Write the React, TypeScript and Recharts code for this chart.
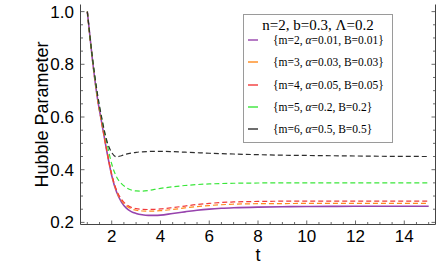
import { LineChart, Line, XAxis, YAxis, Legend } from "recharts";

// time grid shared by all curves
const tValues = [
  1, 1.2, 1.4, 1.6, 1.8, 2.0, 2.2, 2.4, 2.6, 2.8, 3.0, 3.25, 3.5, 3.75, 4, 4.5, 5, 5.5, 6, 6.5, 7, 8, 9, 10,
  11, 12, 13, 14, 15,
];

// Hubble parameter, one array per curve
const hubbleM2 = [
  1.0, 0.825, 0.68, 0.573, 0.47, 0.378, 0.315, 0.277, 0.254, 0.241, 0.234, 0.229, 0.2268, 0.2267, 0.2275,
  0.234, 0.24, 0.246, 0.2505, 0.2535, 0.2555, 0.258, 0.2595, 0.2603, 0.2607, 0.261, 0.261, 0.261, 0.261,
];
const hubbleM3 = [
  1.0, 0.825, 0.68, 0.573, 0.471, 0.38, 0.318, 0.283, 0.263, 0.252, 0.246, 0.2432, 0.2425, 0.243, 0.2445,
  0.249, 0.255, 0.26, 0.264, 0.267, 0.269, 0.271, 0.2715, 0.272, 0.272, 0.272, 0.272, 0.272, 0.272,
];
const hubbleM4 = [
  1.0, 0.825, 0.681, 0.575, 0.473, 0.383, 0.322, 0.288, 0.268, 0.257, 0.252, 0.2495, 0.249, 0.2497, 0.251,
  0.256, 0.262, 0.268, 0.272, 0.2755, 0.2775, 0.2795, 0.2805, 0.281, 0.281, 0.281, 0.281, 0.281, 0.281,
];
const hubbleM5 = [
  1.0, 0.83, 0.69, 0.588, 0.502, 0.422, 0.372, 0.347, 0.332, 0.323, 0.3195, 0.3188, 0.321, 0.325, 0.329,
  0.335, 0.34, 0.3435, 0.346, 0.3475, 0.3485, 0.3495, 0.35, 0.35, 0.35, 0.35, 0.35, 0.35, 0.35,
];
const hubbleM6 = [
  1.0, 0.832, 0.697, 0.593, 0.51, 0.465, 0.449, 0.453, 0.459, 0.463, 0.466, 0.468, 0.469, 0.4695, 0.4695,
  0.4685, 0.4665, 0.4645, 0.4625, 0.461, 0.4595, 0.457, 0.455, 0.454, 0.453, 0.452, 0.451, 0.4505, 0.45,
];

// legend parameters
const nValue = 2;
const bValue = 0.3;
const lambdaValue = 0.2;
const mValues = [2, 3, 4, 5, 6];
const alphaValues = [0.01, 0.03, 0.05, 0.2, 0.5];
const bigBValues = [0.01, 0.03, 0.05, 0.2, 0.5];

const xMajorTicks = [2, 4, 6, 8, 10, 12, 14];
const yMajorTicks = [0.2, 0.4, 0.6, 0.8, 1.0];

const seriesKeys = ["m2", "m3", "m4", "m5", "m6"];
const seriesValues = [hubbleM2, hubbleM3, hubbleM4, hubbleM5, hubbleM6];
const seriesColors = ["#9743ad", "#ff8a1c", "#f23a3a", "#3ae63a", "#2e2e2e"];
const seriesDash = [undefined, "5 3", "5 3", "5 3", "5 3"];
const seriesWidth = [1.6, 1.2, 1.2, 1.2, 1.2];

const rows = tValues.map((t, i) => {
  const row: Record<string, number> = { t };
  seriesKeys.forEach((k, j) => (row[k] = seriesValues[j][i]));
  return row;
});

// minor ticks every quarter of a major step
function withMinor(step: number, lo: number, hi: number) {
  const out: number[] = [];
  for (let v = lo; v <= hi + 1e-9; v += step / 4) out.push(Math.round(v * 1000) / 1000);
  return out;
}
const xTicks = withMinor(2, 1, 15);
const yTicks = withMinor(0.2, 0.2, 1.0);

const isMajor = (v: number, majors: number[]) => majors.some((m) => Math.abs(m - v) < 1e-6);

const frame = "#444";
const sans = '"Liberation Sans", Arial, Helvetica, sans-serif';
const serif = '"Liberation Serif", "Times New Roman", serif';

const BottomTick = (p: any) => {
  const major = isMajor(p.payload.value, xMajorTicks);
  return (
    <g>
      <line x1={p.x} x2={p.x} y1={p.y} y2={p.y - (major ? 4 : 2.5)} stroke={frame} strokeWidth={0.8} />
      {major && (
        <text x={p.x} y={p.y + 17} textAnchor="middle" fontSize={17} fill="#000">
          {p.payload.value}
        </text>
      )}
    </g>
  );
};

const TopTick = (p: any) => {
  const major = isMajor(p.payload.value, xMajorTicks);
  return <line x1={p.x} x2={p.x} y1={p.y} y2={p.y + (major ? 4 : 2.5)} stroke={frame} strokeWidth={0.8} />;
};

const LeftTick = (p: any) => {
  const major = isMajor(p.payload.value, yMajorTicks);
  return (
    <g>
      <line x1={p.x} x2={p.x + (major ? 4 : 2.5)} y1={p.y} y2={p.y} stroke={frame} strokeWidth={0.8} />
      {major && (
        <text x={p.x - 6.5} y={p.y + 6} textAnchor="end" fontSize={17} fill="#000">
          {p.payload.value.toFixed(1)}
        </text>
      )}
    </g>
  );
};

const RightTick = (p: any) => {
  const major = isMajor(p.payload.value, yMajorTicks);
  return <line x1={p.x} x2={p.x - (major ? 4 : 2.5)} y1={p.y} y2={p.y} stroke={frame} strokeWidth={0.8} />;
};

const LegendBox = (props: any) => {
  const payload = props.payload || [];
  return (
    <div
      style={{
        width: 150,
        height: 129,
        boxSizing: "border-box",
        border: "1px solid #9a9a9a",
        background: "#fff",
        position: "relative",
        fontFamily: serif,
        color: "#000",
      }}
    >
      <div
        style={{
          position: "absolute",
          left: 0,
          right: 0,
          top: 1,
          height: 18,
          lineHeight: "18px",
          textAlign: "center",
          fontSize: 15,
          whiteSpace: "nowrap",
        }}
      >
        n={nValue}, b={bValue}, Λ={lambdaValue}
      </div>
      {payload.map((entry: any, i: number) => {
        const j = Math.max(0, seriesKeys.indexOf(entry.dataKey));
        return (
          <div
            key={seriesKeys[j]}
            style={{ position: "absolute", left: 0, top: 15 + i * 22.25, height: 20, width: 148 }}
          >
            <svg width={12} height={20} style={{ position: "absolute", left: 3, top: 0 }}>
              <line x1={1} x2={11} y1={10} y2={10} stroke={seriesColors[j]} strokeWidth={1.4} />
            </svg>
            <span
              style={{
                position: "absolute",
                left: 29,
                top: 0,
                lineHeight: "20px",
                fontSize: 11.5,
                whiteSpace: "nowrap",
              }}
            >
              {"{"}m={mValues[j]}, <i>α</i>={alphaValues[j]}, B={bigBValues[j]}
              {"}"}
            </span>
          </div>
        );
      })}
    </div>
  );
};

export default function App() {
  return (
    <div
      style={{
        position: "fixed",
        left: 0,
        top: 0,
        width: 436,
        height: 273,
        background: "#fff",
        fontFamily: sans,
      }}
    >
      <LineChart width={436} height={273} data={rows} margin={{ top: 4.5, right: 0, bottom: 0, left: 0 }}>
        <XAxis
          xAxisId="bottom"
          dataKey="t"
          type="number"
          domain={[0.72, 15.28]}
          allowDataOverflow
          ticks={xTicks}
          interval={0}
          tickLine={false}
          tickSize={0}
          tickMargin={0}
          height={48.5}
          axisLine={{ stroke: frame }}
          tick={(p: any) => <BottomTick {...p} />}
          label={{ value: "t", position: "insideBottom", offset: 12, fontSize: 18, fill: "#000" }}
        />
        <XAxis
          xAxisId="top"
          orientation="top"
          dataKey="t"
          type="number"
          domain={[0.72, 15.28]}
          allowDataOverflow
          ticks={xTicks}
          interval={0}
          tickLine={false}
          tickSize={0}
          tickMargin={0}
          height={0}
          axisLine={{ stroke: frame }}
          tick={(p: any) => <TopTick {...p} />}
        />
        <YAxis
          yAxisId="left"
          type="number"
          domain={[0.192, 1.027]}
          allowDataOverflow
          ticks={yTicks}
          interval={0}
          tickLine={false}
          tickSize={0}
          tickMargin={0}
          width={80.5}
          axisLine={{ stroke: frame }}
          tick={(p: any) => <LeftTick {...p} />}
          label={{ value: "Hubble Parameter", angle: -90, position: "center", dx: 1, fontSize: 18, fill: "#000" }}
        />
        <YAxis
          yAxisId="right"
          orientation="right"
          type="number"
          domain={[0.192, 1.027]}
          allowDataOverflow
          ticks={yTicks}
          interval={0}
          tickLine={false}
          tickSize={0}
          tickMargin={0}
          width={0.5}
          axisLine={{ stroke: frame }}
          tick={(p: any) => <RightTick {...p} />}
        />
        <Legend
          layout="vertical"
          align="center"
          verticalAlign="middle"
          wrapperStyle={{ left: 243, top: 14, width: 150, height: 129 }}
          content={(p: any) => <LegendBox {...p} />}
        />
        {seriesKeys.map((k, j) => (
          <Line
            key={k}
            xAxisId="bottom"
            yAxisId="left"
            type="monotone"
            dataKey={k}
            stroke={seriesColors[j]}
            strokeWidth={seriesWidth[j]}
            strokeDasharray={seriesDash[j]}
            dot={false}
            activeDot={false}
            isAnimationActive={false}
          />
        ))}
      </LineChart>
    </div>
  );
}
